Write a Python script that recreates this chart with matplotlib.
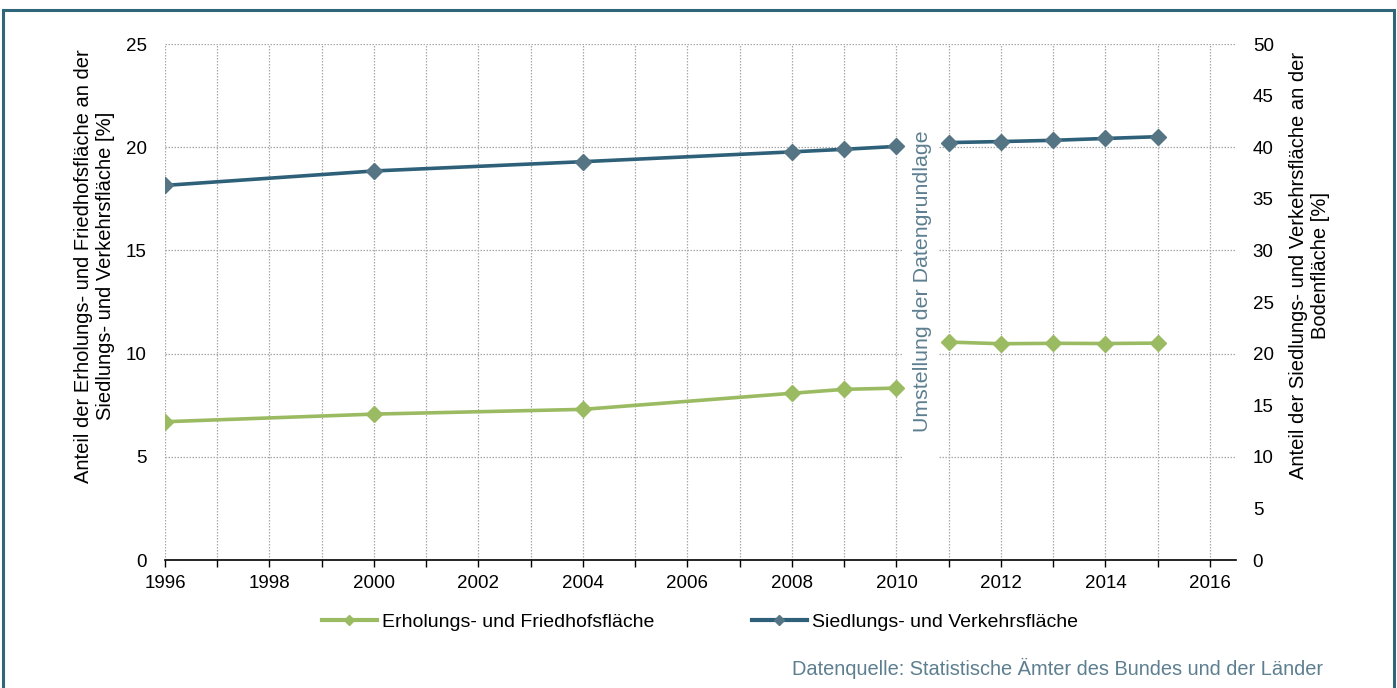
import numpy as np
import matplotlib
matplotlib.use("Agg")
import matplotlib.pyplot as plt
from matplotlib.patches import Rectangle
from matplotlib.lines import Line2D

plt.rcParams['font.family'] = ['Liberation Sans', 'DejaVu Sans']

years = [1996, 2000, 2004, 2008, 2009, 2010, 2011, 2012, 2013, 2014, 2015]
erholung = [6.7, 7.07, 7.3, 8.08, 8.27, 8.33, 10.56, 10.48, 10.5, 10.49, 10.51]
siedlung = [36.3, 37.7, 38.6, 39.55, 39.8, 40.08, 40.45, 40.55, 40.67, 40.85, 41.02]
breakYear = 2010
xTicks = [1996, 1998, 2000, 2002, 2004, 2006, 2008, 2010, 2012, 2014, 2016]
leftTicks = [0, 5, 10, 15, 20, 25]
rightTicks = [0, 5, 10, 15, 20, 25, 30, 35, 40, 45, 50]

green = "#9bbb62"
blue = "#2e6079"
blueMarker = "#557585"
noteColor = "#5d7f90"
frameColor = "#2f6679"

fig = plt.figure(figsize=(13.97, 6.88), dpi=100)
ax = fig.add_axes([0.1181, 0.186, 0.7667, 0.75])
ax2 = ax.twinx()

x = np.array(years)
old = x <= breakYear
new = x > breakYear
e = np.array(erholung)
s = np.array(siedlung)

for mask in (old, new):
  ax.plot(x[mask], e[mask], color=green, lw=2.6, marker="D", ms=8.5,
          mfc=green, mec=green, zorder=3)
  ax2.plot(x[mask], s[mask], color=blue, lw=2.6, marker="D", ms=8.5,
           mfc=blueMarker, mec=blueMarker, zorder=3)

ax.set_xlim(1996, 2016.5)
ax.set_ylim(0, 25)
ax2.set_ylim(0, 50)
ax.set_xticks(xTicks)
ax.set_xticks(range(1996, 2017), minor=True)
ax.set_yticks(leftTicks)
ax2.set_yticks(rightTicks)

ax.grid(True, which="both", axis="x", color="#a8a8a8", ls=(0, (1.2, 1.2)), lw=0.9)
ax.grid(True, which="major", axis="y", color="#a8a8a8", ls=(0, (1.2, 1.2)), lw=0.9)
ax.set_axisbelow(True)

for a in (ax, ax2):
  for side in ("top", "left", "right"):
    a.spines[side].set_visible(False)
ax2.spines["bottom"].set_visible(False)
ax.spines["bottom"].set_linewidth(1.2)

ax.tick_params(axis="x", which="both", length=5, width=1, labelsize=13.5, pad=6)
ax.tick_params(axis="y", length=0, labelsize=13.5, pad=13)
ax2.tick_params(axis="y", length=0, labelsize=13.5, pad=12)

ax.set_ylabel("Anteil der Erholungs- und Friedhofsfläche an der\nSiedlungs- und Verkehrsfläche [%]",
              fontsize=14.5, linespacing=1.2)
ax.yaxis.set_label_coords(-0.047, 0.57)
ax2.set_ylabel("Anteil der Siedlungs- und Verkehrsfläche an der\nBodenfläche [%]",
               fontsize=14.5, linespacing=1.2)
ax2.yaxis.set_label_coords(1.049, 0.57)

# weisser Streifen hinter dem Hinweis, unterbricht das Gitter
ax.add_patch(Rectangle((2010.12, 4.6), 0.67, 16.5, facecolor="white", edgecolor="none", zorder=1))
ax.text(2010.5, 13.5, "Umstellung der Datengrundlage", rotation=90, color=noteColor,
        fontsize=15.4, ha="center", va="center", zorder=4)

handles = [
  Line2D([], [], color=green, lw=3, marker="D", ms=5, mfc=green, mec=green),
  Line2D([], [], color=blue, lw=3, marker="D", ms=5, mfc=blueMarker, mec=blueMarker),
]
fig.legend(handles, ["Erholungs- und Friedhofsfläche", "Siedlungs- und Verkehrsfläche"],
           loc="center", bbox_to_anchor=(0.501, 0.096), ncol=2, frameon=False,
           fontsize=14, handlelength=2.85, handletextpad=0.26, columnspacing=5.0)

fig.text(0.947, 0.029, "Datenquelle: Statistische Ämter des Bundes und der Länder",
         color=noteColor, fontsize=14.4, ha="right", va="center")

fig.patches.append(Rectangle((0.0025, -0.05), 0.9955, 1.036, transform=fig.transFigure,
                             fill=False, edgecolor=frameColor, lw=2.2))

fig.savefig("out.png", dpi=100)
